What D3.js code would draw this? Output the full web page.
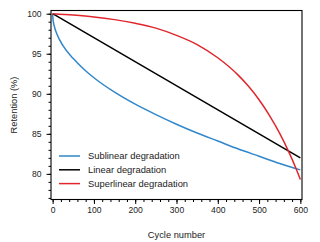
<!DOCTYPE html>
<html>
<head>
<meta charset="utf-8">
<script src="https://cdn.jsdelivr.net/npm/d3@7"></script>
<style>
  body { margin: 0; background: #fff; }
  svg { display: block; font-family: "Liberation Sans", Arial, sans-serif; }
  .axis path, .axis line { stroke: #000; }
  .axis text { fill: #222; font-size: 8.6px; }
</style>
</head>
<body>
<svg id="chart" width="320" height="242"></svg>
<script>
// data
const seriesNames = ["Sublinear degradation", "Linear degradation", "Superlinear degradation"];
const seriesColors = ["#3187cb", "#000000", "#e0262c"];

const sublinearCycles = [0, 1, 2, 5, 10, 25, 50, 75, 100, 150, 200, 250, 300, 350, 400, 450, 500, 550, 600];
const sublinearValues = [100, 99.2, 98.9, 98.25, 97.5, 96.0, 94.4, 93.1, 92.0, 90.2, 88.7, 87.4, 86.2, 85.1, 84.1, 83.1, 82.2, 81.3, 80.5];

const linearCycles = [0, 600];
const linearValues = [100, 82];

const superlinearCycles = [0, 50, 100, 150, 200, 250, 300, 350, 400, 450, 475, 500, 525, 550, 575, 590, 600];
const superlinearValues = [100, 99.83, 99.6, 99.26, 98.8, 98.2, 97.3, 96.15, 94.5, 92.3, 90.9, 89.25, 87.3, 85.05, 82.4, 80.6, 79.3];

const xTicks = [0, 100, 200, 300, 400, 500, 600];
const yTicks = [80, 85, 90, 95, 100];

const svg = d3.select("#chart");
const plotLeft = 51, plotRight = 302, plotTop = 10.5, plotBottom = 199.5;

const x = d3.scaleLinear().domain([-4, 604]).range([plotLeft, plotRight]);
const y = d3.scaleLinear().domain([76.8, 100.4]).range([plotBottom, plotTop]);

const series = [
  {cycles: sublinearCycles, values: sublinearValues},
  {cycles: linearCycles, values: linearValues},
  {cycles: superlinearCycles, values: superlinearValues}
];

// minor ticks
svg.append("g")
    .attr("class", "axis")
    .attr("transform", `translate(0,${plotBottom})`)
    .call(d3.axisBottom(x).tickValues(d3.range(0, 601, 20)).tickSize(2.5).tickFormat(""))
    .call(g => g.select(".domain").remove());
svg.append("g")
    .attr("class", "axis")
    .attr("transform", `translate(${plotLeft},0)`)
    .call(d3.axisLeft(y).tickValues(d3.range(77, 101, 1)).tickSize(2.5).tickFormat(""))
    .call(g => g.select(".domain").remove());

// major ticks
svg.append("g")
    .attr("class", "axis")
    .attr("transform", `translate(0,${plotBottom})`)
    .call(d3.axisBottom(x).tickValues(xTicks).tickSize(4.5).tickPadding(3))
    .call(g => g.select(".domain").remove());
svg.append("g")
    .attr("class", "axis")
    .attr("transform", `translate(${plotLeft},0)`)
    .call(d3.axisLeft(y).tickValues(yTicks).tickSize(4.5).tickPadding(5))
    .call(g => g.select(".domain").remove());

// lines
const line = d3.line().curve(d3.curveMonotoneX);
svg.append("g")
    .attr("fill", "none")
    .attr("stroke-width", 1.5)
  .selectAll("path")
  .data(series)
  .join("path")
    .attr("stroke", (d, i) => seriesColors[i])
    .attr("d", d => line(d.cycles.map((c, j) => [x(c), y(d.values[j])])));

// frame
svg.append("rect")
    .attr("x", plotLeft)
    .attr("y", plotTop)
    .attr("width", plotRight - plotLeft)
    .attr("height", plotBottom - plotTop)
    .attr("fill", "none")
    .attr("stroke", "#000")
    .attr("stroke-width", 1.1);

// legend
const legend = svg.append("g").attr("transform", "translate(59,156)");
seriesNames.forEach((name, i) => {
  const row = legend.append("g").attr("transform", `translate(0,${i * 13.8})`);
  row.append("line")
      .attr("x1", 0).attr("x2", 21)
      .attr("stroke", seriesColors[i])
      .attr("stroke-width", 1.5);
  row.append("text")
      .attr("x", 29).attr("y", 3.3)
      .attr("font-size", "9.4px")
      .attr("fill", "#222")
      .text(name);
});

// axis labels
svg.append("text")
    .attr("x", (plotLeft + plotRight) / 2)
    .attr("y", 238)
    .attr("text-anchor", "middle")
    .attr("font-size", "9.3px")
    .attr("fill", "#222")
    .text("Cycle number");
svg.append("text")
    .attr("transform", `translate(17,${(plotTop + plotBottom) / 2})rotate(-90)`)
    .attr("text-anchor", "middle")
    .attr("font-size", "9.3px")
    .attr("fill", "#222")
    .text("Retention (%)");
</script>
</body>
</html>
